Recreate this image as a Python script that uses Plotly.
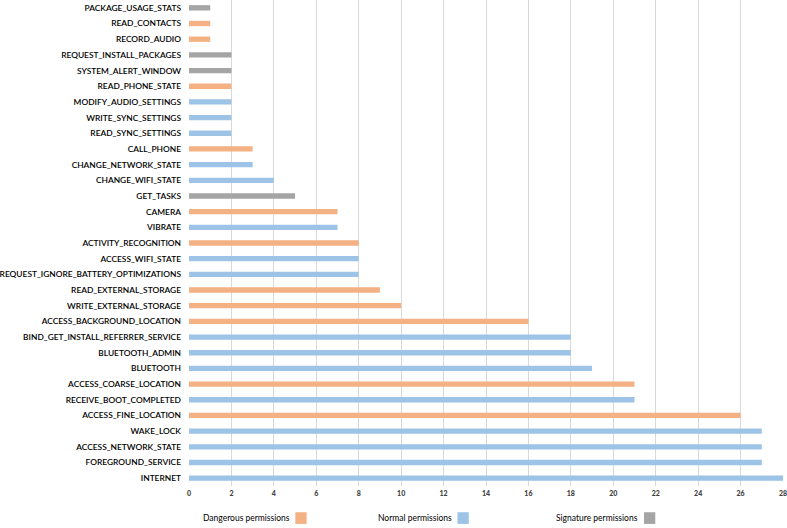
import plotly.graph_objects as go

# Colores tipo Excel para cada grupo de permisos.
COLORES = {
    "Dangerous": "#F4B183",
    "Normal": "#9DC3E6",
    "Signature": "#A5A5A5",
}

# Permisos de abajo hacia arriba, con su conteo y su grupo.
permisos = [
    "INTERNET",
    "FOREGROUND_SERVICE",
    "ACCESS_NETWORK_STATE",
    "WAKE_LOCK",
    "ACCESS_FINE_LOCATION",
    "RECEIVE_BOOT_COMPLETED",
    "ACCESS_COARSE_LOCATION",
    "BLUETOOTH",
    "BLUETOOTH_ADMIN",
    "BIND_GET_INSTALL_REFERRER_SERVICE",
    "ACCESS_BACKGROUND_LOCATION",
    "WRITE_EXTERNAL_STORAGE",
    "READ_EXTERNAL_STORAGE",
    "REQUEST_IGNORE_BATTERY_OPTIMIZATIONS",
    "ACCESS_WIFI_STATE",
    "ACTIVITY_RECOGNITION",
    "VIBRATE",
    "CAMERA",
    "GET_TASKS",
    "CHANGE_WIFI_STATE",
    "CHANGE_NETWORK_STATE",
    "CALL_PHONE",
    "READ_SYNC_SETTINGS",
    "WRITE_SYNC_SETTINGS",
    "MODIFY_AUDIO_SETTINGS",
    "READ_PHONE_STATE",
    "SYSTEM_ALERT_WINDOW",
    "REQUEST_INSTALL_PACKAGES",
    "RECORD_AUDIO",
    "READ_CONTACTS",
    "PACKAGE_USAGE_STATS",
]

conteos = [
    28, 27, 27, 27, 26, 21, 21, 19, 18, 18, 16, 10, 9, 8, 8, 8,
    7, 7, 5, 4, 3, 3, 2, 2, 2, 2, 2, 2, 1, 1, 1,
]

grupos = [
    "Normal", "Normal", "Normal", "Normal", "Dangerous", "Normal", "Dangerous",
    "Normal", "Normal", "Normal", "Dangerous", "Dangerous", "Dangerous",
    "Normal", "Normal", "Dangerous", "Normal", "Dangerous", "Signature",
    "Normal", "Normal", "Dangerous", "Normal", "Normal", "Normal",
    "Dangerous", "Signature", "Signature", "Dangerous", "Dangerous", "Signature",
]

marcas = list(range(0, 29, 2))

fig = go.Figure()

fig.add_trace(
    go.Bar(
        x=conteos,
        y=permisos,
        orientation="h",
        marker_color=[COLORES[g] for g in grupos],
        marker_line_width=0,
        showlegend=False,
    )
)

fig.update_xaxes(
    range=[0, 28.0001],
    tickvals=marcas,
    showgrid=True,
    gridcolor="#D9D9D9",
    gridwidth=1,
    zeroline=False,
    showline=False,
    automargin=False,
    ticklabeloverflow="allow",
    ticklabelstandoff=2,
    tickfont=dict(size=7, color="#404040", family="Lato Black, Lato"),
)

fig.update_yaxes(
    categoryorder="array",
    categoryarray=permisos,
    showgrid=False,
    showline=False,
    ticks="",
    automargin=False,
    ticklabelstandoff=7,
    tickfont=dict(size=8.4, color="#000000", family="Lato Semibold, Lato"),
)

# Leyenda manual: texto primero y el cuadro de color después.
leyenda = [
    ("Dangerous permissions", "Dangerous", 0.173),
    ("Normal permissions", "Normal", 0.446),
    ("Signature permissions", "Signature", 0.76),
]

anotaciones = []
formas = []
for texto, grupo, x in leyenda:
    anotaciones.append(
        dict(
            x=x,
            y=-0.066,
            xref="paper",
            yref="paper",
            xanchor="right",
            yanchor="middle",
            text=texto,
            showarrow=False,
            font=dict(size=8.5, color="#000000"),
        )
    )
    formas.append(
        dict(
            type="rect",
            xref="paper",
            yref="paper",
            x0=x + 0.006,
            x1=x + 0.025,
            y0=-0.078,
            y1=-0.054,
            fillcolor=COLORES[grupo],
            line_width=0,
        )
    )

fig.update_layout(
    width=787,
    height=528,
    bargap=0.66,
    font_family="Lato",
    paper_bgcolor="#FFFFFF",
    plot_bgcolor="#FFFFFF",
    margin=dict(l=189, r=4, t=0, b=42),
    annotations=anotaciones,
    shapes=formas,
)

# Quitamos el margen del body para que la figura empiece en la esquina.
fig.write_html(
    "out.html",
    config={"displayModeBar": False},
    post_script="document.body.style.margin = '0';",
)
